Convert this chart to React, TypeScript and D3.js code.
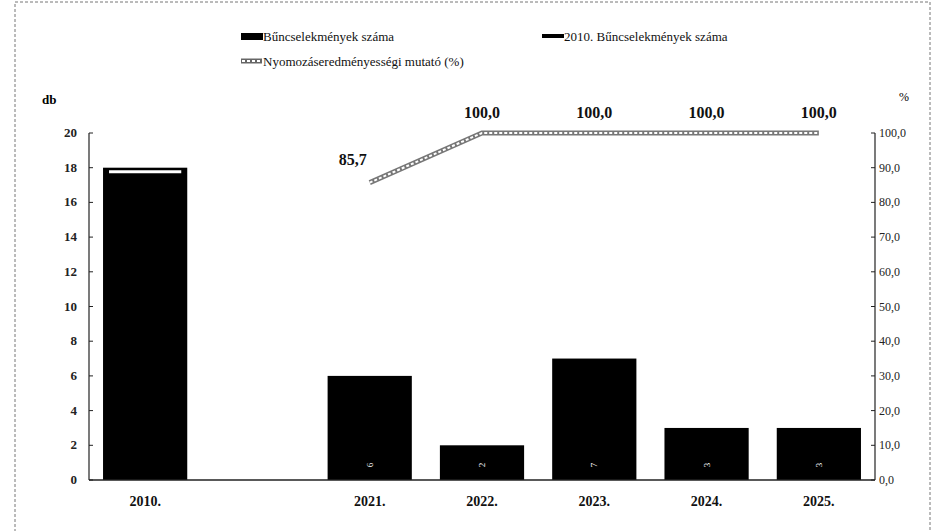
import React from 'react';
import * as d3 from 'd3';

const categories = ['2010.', '', '2021.', '2022.', '2023.', '2024.', '2025.'];
const crimeCounts: (number | null)[] = [18, null, 6, 2, 7, 3, 3];
const crimes2010: (number | null)[] = [18, null, null, null, null, null, null];
const clearanceRate: (number | null)[] = [null, null, 85.7, 100, 100, 100, 100];
const leftTicks = [0, 2, 4, 6, 8, 10, 12, 14, 16, 18, 20];
const rightTicks = [0, 10, 20, 30, 40, 50, 60, 70, 80, 90, 100];

const W = 940;
const H = 531;
const margin = { top: 133, right: 65, bottom: 51, left: 89 };
const font = "'Liberation Serif', 'DejaVu Serif', serif";

const fmt = (v: number) => v.toFixed(1).replace('.', ',');

export default function App() {
  const x = d3.scaleBand<string>()
    .domain(categories.map((c, i) => `${i}`))
    .range([margin.left, W - margin.right])
    .paddingInner(0.25)
    .paddingOuter(0.125);

  const y = d3.scaleLinear().domain([0, 20]).range([H - margin.bottom, margin.top]);
  const y2 = d3.scaleLinear().domain([0, 100]).range([H - margin.bottom, margin.top]);

  const cx = (i: number) => (x(`${i}`) as number) + x.bandwidth() / 2;

  const linePts = clearanceRate
    .map((v, i) => (v == null ? null : [cx(i), y2(v)] as [number, number]))
    .filter((p): p is [number, number] => p !== null);
  const linePath = d3.line<[number, number]>()(linePts) || '';

  const x0 = margin.left;
  const x1 = W - margin.right;
  const yBase = y(0);

  return (
    <svg width={W} height={H}
      style={{ position: 'absolute', left: 0, top: 0, background: '#fff', fontFamily: font }}>
      {/* frame */}
      <rect x={15} y={2} width={915} height={540} fill="none" stroke="#777" strokeWidth={1}
        strokeDasharray="3 2" />

      {/* legend */}
      <g fontSize={13} fill="#111">
        <rect x={241} y={33} width={22} height={7} fill="#000" />
        <text x={263} y={41}>Bűncselekmények száma</text>
        <rect x={542} y={34} width={22} height={4} fill="#000" />
        <text x={564} y={41}>2010. Bűncselekmények száma</text>
        <line x1={241} x2={262} y1={61} y2={61} stroke="#666" strokeWidth={5} />
        <line x1={242} x2={261} y1={61} y2={61} stroke="#fff" strokeWidth={2} strokeDasharray="3 2" />
        <text x={263} y={66}>Nyomozáseredményességi mutató (%)</text>
      </g>

      {/* axis titles */}
      <text x={42} y={104} fontSize={13} fontWeight="bold">db</text>
      <text x={899} y={101} fontSize={12}>%</text>

      {/* bars */}
      {crimeCounts.map((v, i) => v == null ? null : (
        <rect key={`b${i}`} x={x(`${i}`)} y={y(v)} width={x.bandwidth()} height={yBase - y(v)}
          fill="#000" />
      ))}

      {/* bar value labels (rotated, white) */}
      {crimeCounts.map((v, i) => (v == null || i === 0) ? null : (
        <text key={`bl${i}`} transform={`translate(${cx(i) + 3},${yBase - 15}) rotate(-90)`}
          fontSize={9} fill="#fff" textAnchor="middle">{v}</text>
      ))}

      {/* 2010 reference line */}
      {crimes2010.map((v, i) => v == null ? null : (
        <line key={`r${i}`} x1={(x(`${i}`) as number) + 6} x2={(x(`${i}`) as number) + x.bandwidth() - 6}
          y1={y(v) + 4} y2={y(v) + 4} stroke="#fff" strokeWidth={3} />
      ))}

      {/* left axis */}
      <line x1={x0} x2={x0} y1={margin.top} y2={yBase} stroke="#222" strokeWidth={1.2} />
      {leftTicks.map(t => (
        <g key={`lt${t}`}>
          <line x1={x0} x2={x0 + 4} y1={y(t)} y2={y(t)} stroke="#222" />
          <text x={x0 - 12} y={y(t) + 4} fontSize={13} fontWeight="bold" textAnchor="end"
            fill="#222">{t}</text>
        </g>
      ))}

      {/* right axis */}
      <line x1={x1} x2={x1} y1={margin.top} y2={yBase} stroke="#222" strokeWidth={1.2} />
      {rightTicks.map(t => (
        <g key={`rt${t}`}>
          <line x1={x1 - 4} x2={x1} y1={y2(t)} y2={y2(t)} stroke="#222" />
          <text x={x1 + 4} y={y2(t) + 4} fontSize={12} fill="#222">{fmt(t)}</text>
        </g>
      ))}

      {/* baseline */}
      <line x1={x0} x2={x1} y1={yBase} y2={yBase} stroke="#222" strokeWidth={1.5} />

      {/* category labels */}
      {categories.map((c, i) => (
        <text key={`c${i}`} x={cx(i)} y={yBase + 26} fontSize={14} fontWeight="bold"
          textAnchor="middle" fill="#111">{c}</text>
      ))}

      {/* clearance line */}
      <path d={linePath} fill="none" stroke="#777" strokeWidth={5} />
      <path d={linePath} fill="none" stroke="#fff" strokeWidth={2} strokeDasharray="3 2" />

      {/* line labels */}
      {clearanceRate.map((v, i) => v == null ? null : (
        <text key={`ll${i}`} x={v < 100 ? cx(i) - 17 : cx(i)} y={v < 100 ? y2(v) - 18 : y2(v) - 15}
          fontSize={16} fontWeight="bold" textAnchor="middle" fill="#111">{fmt(v)}</text>
      ))}
    </svg>
  );
}
